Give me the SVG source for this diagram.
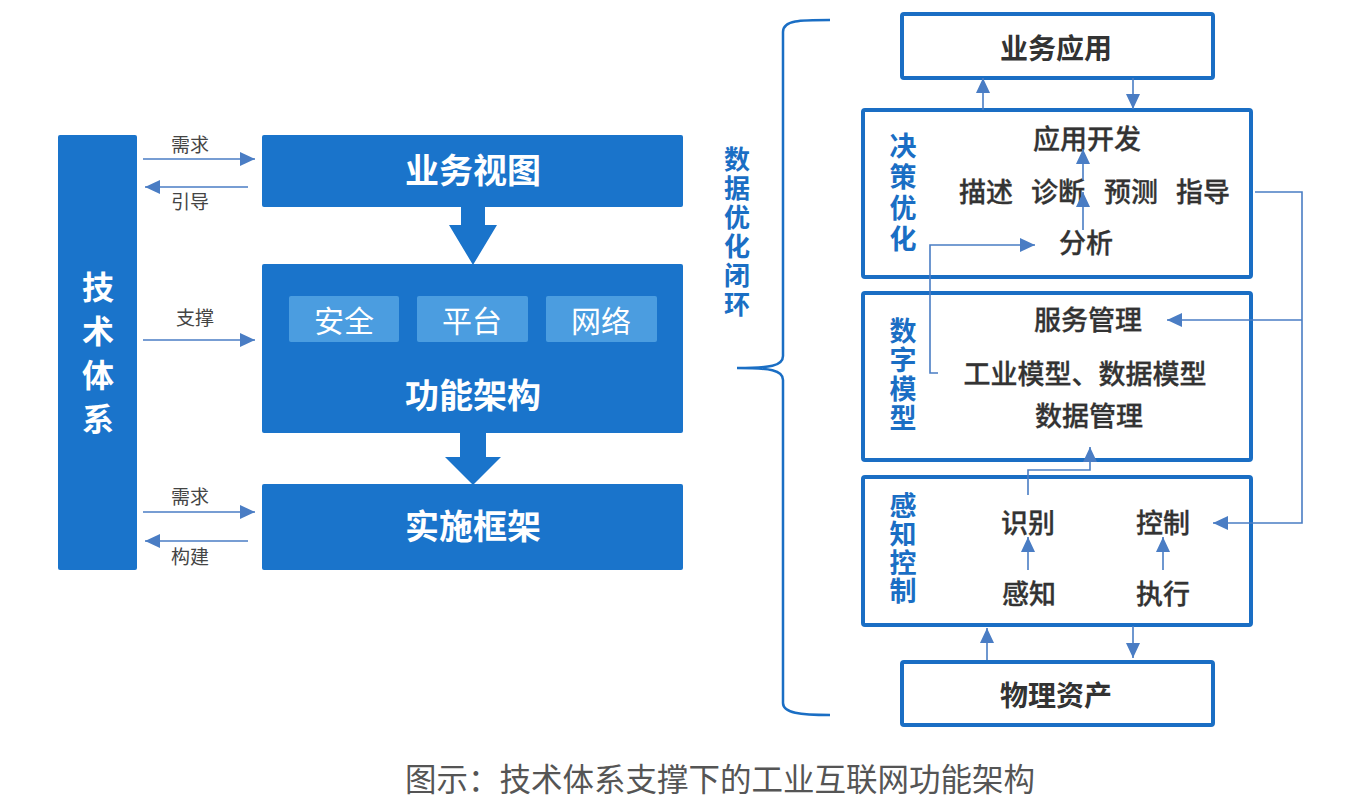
<svg xmlns="http://www.w3.org/2000/svg" width="1346" height="812" viewBox="0 0 1346 812">
<defs>
<style>
.fillb{fill:#1a74cb}
.sub{fill:#4b9de0}
.box{fill:#fff;stroke:#1a6ec4;stroke-width:4}
.conn{fill:none;stroke:#4a7dc4;stroke-width:1.6}
.cjk{font-family:"Noto Sans CJK SC","Noto Sans",sans-serif}
.wt{fill:#fff;font-weight:bold;font-size:34px;text-anchor:middle}
.st{fill:#fff;font-size:30px;text-anchor:middle}
.lt{fill:#444;font-size:19px;text-anchor:middle}
.tt{fill:#333;font-weight:bold;font-size:28px;text-anchor:middle}
.it{fill:#333;font-weight:500;font-size:27px;text-anchor:middle;stroke:#333;stroke-width:0.3}
.vt{fill:#1a6ec4;font-weight:bold;font-size:27px;writing-mode:vertical-rl;text-orientation:upright}
.vw{fill:#fff;font-weight:bold;font-size:32px;writing-mode:vertical-rl;text-orientation:upright}
.cap{fill:#555;font-size:31.5px;text-anchor:middle}
</style>
<marker id="ah" markerUnits="userSpaceOnUse" markerWidth="15" markerHeight="14" refX="15" refY="7" orient="auto">
<path d="M0,0 L15,7 L0,14 z" fill="#4a7dc4"/>
</marker>
</defs>
<rect width="1346" height="812" fill="#fff"/>

<g id="tech-system">
<rect class="fillb" x="58" y="135" width="79" height="435" rx="2"/>
<text class="cjk vw" x="98" y="271" letter-spacing="12">技术体系</text>
</g>

<g id="business-view">
<rect class="fillb" x="262" y="135" width="421" height="72" rx="2"/>
<text class="cjk wt" x="473" y="183">业务视图</text>
</g>

<g id="function-arch">
<rect class="fillb" x="262" y="264" width="421" height="169" rx="2"/>
<rect class="sub" x="289" y="296" width="110" height="46" rx="2"/>
<rect class="sub" x="417" y="296" width="111" height="46" rx="2"/>
<rect class="sub" x="546" y="296" width="111" height="46" rx="2"/>
<text class="cjk st" x="344" y="332">安全</text>
<text class="cjk st" x="472" y="332">平台</text>
<text class="cjk st" x="601" y="332">网络</text>
<text class="cjk wt" x="473" y="408">功能架构</text>
</g>

<g id="impl-framework">
<rect class="fillb" x="262" y="484" width="421" height="86" rx="2"/>
<text class="cjk wt" x="473" y="539">实施框架</text>
</g>

<g id="block-arrows">
<polygon class="fillb" points="461,205 485,205 485,225 497,225 473,265 449,225 461,225"/>
<polygon class="fillb" points="460,431 486,431 486,457 501,457 473,485 445,457 460,457"/>
</g>

<g id="loop-label">
<path d="M830,20 C800,20 783,20 783,32 L783,356 C783,366 770,368 737,368 C770,368 783,370 783,380 L783,703 C783,713 800,715 830,715" fill="none" stroke="#1a6ec4" stroke-width="2.5"/>
<text class="cjk vt" style="font-size:26px" x="737" y="146" letter-spacing="3">数据优化闭环</text>
</g>

<g id="business-app">
<rect class="box" x="902" y="14" width="311" height="64" rx="2"/>
<text class="cjk tt" x="1056" y="59">业务应用</text>
</g>

<g id="decision">
<rect class="box" x="863" y="110" width="388" height="167" rx="2"/>
<text class="cjk vt" x="903" y="132" letter-spacing="4">决策优化</text>
<text class="cjk it" x="1087" y="149">应用开发</text>
<text class="cjk it" x="986" y="202">描述</text>
<text class="cjk it" x="1058" y="202">诊断</text>
<text class="cjk it" x="1131" y="202">预测</text>
<text class="cjk it" x="1203" y="202">指导</text>
<text class="cjk it" x="1086" y="253">分析</text>
</g>

<g id="digital-model">
<rect class="box" x="863" y="293" width="388" height="167" rx="2"/>
<text class="cjk vt" x="903" y="317" letter-spacing="2">数字模型</text>
<text class="cjk it" x="1088" y="330">服务管理</text>
<text class="cjk it" x="1085" y="384">工业模型、数据模型</text>
<text class="cjk it" x="1089" y="426">数据管理</text>
</g>

<g id="sense-control">
<rect class="box" x="863" y="477" width="388" height="148" rx="2"/>
<text class="cjk vt" x="903" y="492" letter-spacing="1.5">感知控制</text>
<text class="cjk it" x="1028" y="533">识别</text>
<text class="cjk it" x="1163" y="533">控制</text>
<text class="cjk it" x="1029" y="604">感知</text>
<text class="cjk it" x="1163" y="604">执行</text>
</g>

<g id="physical-assets">
<rect class="box" x="902" y="662" width="311" height="63" rx="2"/>
<text class="cjk tt" x="1056" y="706">物理资产</text>
</g>

<g id="connectors">
<path class="conn" marker-end="url(#ah)" d="M143,159 L255,159"/>
<path class="conn" marker-end="url(#ah)" d="M248,187 L145,187"/>
<path class="conn" marker-end="url(#ah)" d="M143,340 L255,340"/>
<path class="conn" marker-end="url(#ah)" d="M143,512 L255,512"/>
<path class="conn" marker-end="url(#ah)" d="M248,541 L145,541"/>
<path class="conn" marker-end="url(#ah)" d="M983,110 L983,78"/>
<path class="conn" marker-end="url(#ah)" d="M1133,78 L1133,109"/>
<path class="conn" marker-end="url(#ah)" d="M1083,230 L1083,192"/>
<path class="conn" marker-end="url(#ah)" d="M1083,180 L1083,149"/>
<path class="conn" marker-end="url(#ah)" d="M938,373 L930,373 L930,245 L1035,245"/>
<path class="conn" marker-end="url(#ah)" d="M1255,192 L1302,192 L1302,523 L1213,523"/>
<path class="conn" marker-end="url(#ah)" d="M1302,320 L1167,320"/>
<path class="conn" marker-end="url(#ah)" d="M1028,495 L1028,470 L1090,470 L1090,447"/>
<path class="conn" marker-end="url(#ah)" d="M1028,570 L1028,537"/>
<path class="conn" marker-end="url(#ah)" d="M1163,570 L1163,537"/>
<path class="conn" marker-end="url(#ah)" d="M987,660 L987,628"/>
<path class="conn" marker-end="url(#ah)" d="M1133,626 L1133,658"/>
</g>

<g id="labels">
<text class="cjk lt" x="190" y="152">需求</text>
<text class="cjk lt" x="190" y="209">引导</text>
<text class="cjk lt" x="195" y="325">支撑</text>
<text class="cjk lt" x="190" y="504">需求</text>
<text class="cjk lt" x="190" y="564">构建</text>
</g>

<text class="cjk cap" x="720" y="791">图示：技术体系支撑下的工业互联网功能架构</text>
</svg>
